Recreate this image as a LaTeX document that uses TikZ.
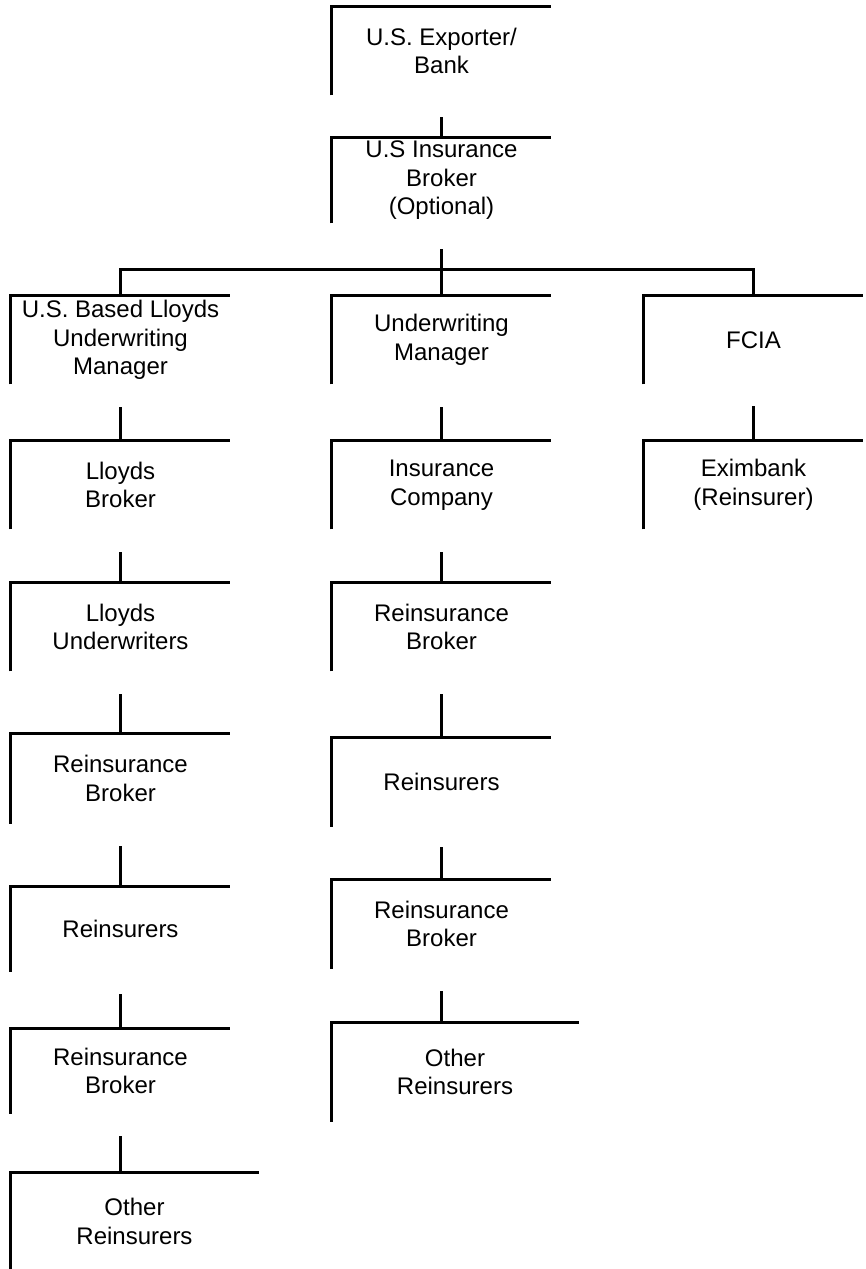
\documentclass[tikz,border=0pt]{standalone}
\usepackage{fontspec}
\setsansfont{Liberation Sans}
\usetikzlibrary{positioning,calc}

\begin{document}
\begin{tikzpicture}[x=1pt,y=1pt,line width=2.6pt,node distance=145pt,
    org/.style={inner sep=0pt,minimum width=217pt,minimum height=86pt,align=center,font=\sffamily\fontsize{24}{28.5}\selectfont}]

            \useasboundingbox (0,0) rectangle (866,-1269);

            \node[org] (exp) at (441.5,-51) {U.S. Exporter/\\Bank};
            \node[org, minimum height=83pt] (brk) [below of=exp, yshift=15.5]{U.S Insurance\\Broker\\(Optional)};

            \node[org] (uwm) [below of=brk, yshift=-14.5]{Underwriting\\Manager};
            \node[org] (usl) [left of=uwm, xshift=-176]{U.S. Based Lloyds\\Underwriting\\Manager};
            \node[org] (fcia) [right of=uwm, xshift=167]{FCIA};

            % Lloyds side
            \node[org] (llb) [below of=usl]{Lloyds\\Broker};
            \node[org] (llu) [below of=llb, yshift=3]{Lloyds\\Underwriters};
            \node[org, minimum height=88pt] (rbl) [below of=llu, yshift=-6.5]{Reinsurance\\Broker};
            \node[org, minimum height=83pt] (reil) [below of=rbl, yshift=-5.5]{Reinsurers};
            \node[org, minimum height=83pt] (rblb) [below of=reil, yshift=3]{Reinsurance\\Broker};
            \node[org, minimum width=246pt, minimum height=96pt] (othl) [below of=rblb, xshift=14, yshift=-5.5]{Other\\Reinsurers};

            % company side
            \node[org] (ins) [below of=uwm]{Insurance\\Company};
            \node[org] (rbm) [below of=ins, yshift=3]{Reinsurance\\Broker};
            \node[org, minimum height=87pt] (reim) [below of=rbm, yshift=-10]{Reinsurers};
            \node[org, minimum height=87pt] (rbmb) [below of=reim, yshift=3]{Reinsurance\\Broker};
            \node[org, minimum width=245pt, minimum height=97pt] (othm) [below of=rbmb, xshift=13.5, yshift=-3]{Other\\Reinsurers};

            \node[org] (exi) [below of=fcia]{Eximbank\\(Reinsurer)};

            % open boxes: top and left side only
            \foreach \n in {exp,brk,usl,uwm,fcia,llb,llu,rbl,reil,rblb,othl,ins,rbm,reim,rbmb,othm,exi}
                \draw (\n.south west) |- (\n.north east);

            % bus under the broker
            \coordinate (bus) at ($(brk.south)+(0,-46)$);
            \draw ($(brk.south)+(0,-26)$) -- (uwm.north);
            \draw (usl.north) |- (bus) -| (fcia.north);

            % stubs down to each box
            \foreach \p/\c/\l in {exp/brk/21, usl/llb/34, llb/llu/31, llu/rbl/39, rbl/reil/40, reil/rblb/34, rblb/othl/36,
                                  uwm/ins/34, ins/rbm/31, rbm/reim/43, reim/rbmb/32, rbmb/othm/31, fcia/exi/35}
                \draw (\c.north -| \p.south) -- ++(0,\l);
        \end{tikzpicture}
\end{document}
